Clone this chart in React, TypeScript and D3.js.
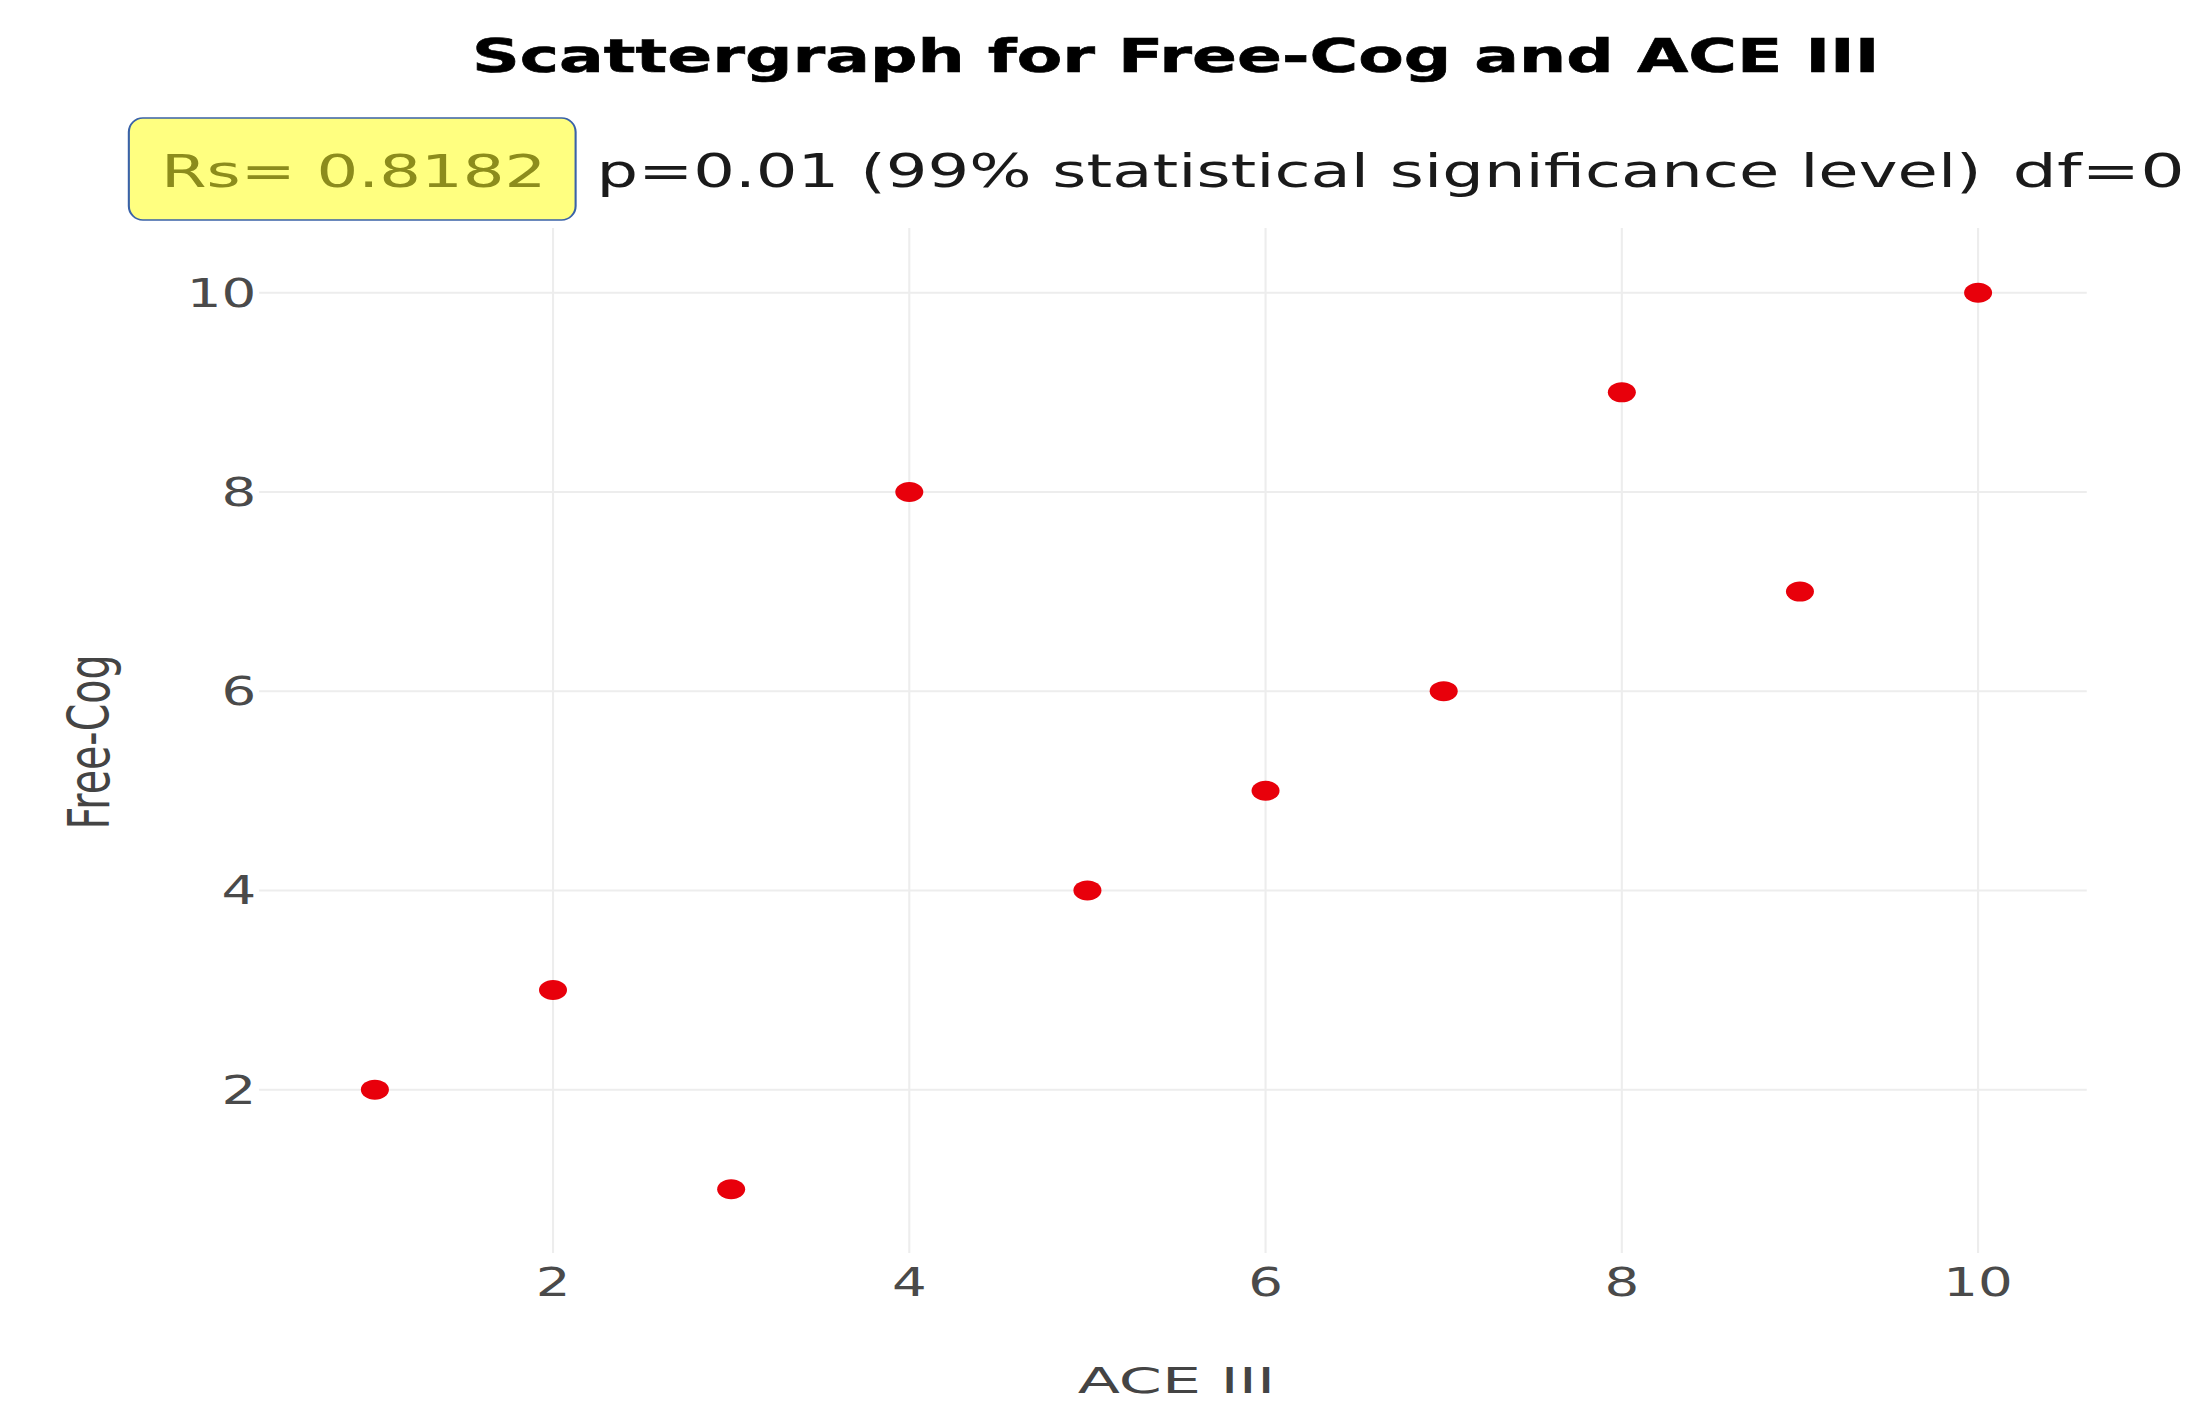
import React from 'react';
import * as d3 from 'd3';

// Free-Cog vs ACE III scores
const aceScores = [1, 2, 3, 4, 5, 6, 7, 8, 9, 10];
const freeCogScores = [2, 3, 1, 8, 4, 5, 6, 9, 7, 10];
const xTicks = [2, 4, 6, 8, 10];
const yTicks = [2, 4, 6, 8, 10];

const titleText = 'Scattergraph for Free-Cog and ACE III';
const rsText = 'Rs= 0.8182';
const pText = 'p=0.01 (99% statistical significance level)';
const dfText = 'df=0';

// the original picture is stretched sideways, so draw in a narrower
// virtual space and let the viewBox stretch it
const W = 1568;
const H = 1405;
const FONT = "'DejaVu Sans', Verdana, sans-serif";

export default function App() {
  const x = d3.scaleLinear().domain([0.35, 10.61]).range([185, 1490]);
  const y = d3.scaleLinear().domain([0.36, 10.65]).range([1253, 228]);
  const [x0, x1] = x.range();
  const [y0, y1] = y.range();

  const points = aceScores.map((a, i) => ({ a, f: freeCogScores[i] }));

  return (
    <svg
      width={2196}
      height={1405}
      viewBox={`0 0 ${W} ${H}`}
      preserveAspectRatio="none"
      style={{ position: 'absolute', left: 0, top: 0, display: 'block', background: '#fff' }}
    >
      <rect x={0} y={0} width={W} height={H} fill="#fff" />

      {/* grid */}
      <g>
        {xTicks.map((t) => (
          <line key={'gx' + t} x1={x(t)} x2={x(t)} y1={y0} y2={y1} stroke="#ededed" strokeWidth={1.5} />
        ))}
        {yTicks.map((t) => (
          <line key={'gy' + t} x1={x0} x2={x1} y1={y(t)} y2={y(t)} stroke="#ededed" strokeWidth={2} />
        ))}
      </g>

      {/* tick labels */}
      <g fontFamily={FONT} fontSize={39} fill="#4a4a4a">
        {yTicks.map((t) => (
          <text key={'ty' + t} x={183} y={y(t)} dy="0.36em" textAnchor="end">
            {t}
          </text>
        ))}
        {xTicks.map((t) => (
          <text key={'tx' + t} x={x(t)} y={1296} textAnchor="middle">
            {t}
          </text>
        ))}
      </g>

      {/* points */}
      <g>
        {points.map((p, i) => (
          <circle key={i} cx={x(p.a)} cy={y(p.f)} r={10} fill="#e8000b" />
        ))}
      </g>

      {/* axis titles */}
      <text
        x={840}
        y={1393}
        textAnchor="middle"
        fontFamily={FONT}
        fontSize={36}
        fill="#444"
        textLength={141}
        lengthAdjust="spacingAndGlyphs"
      >
        ACE III
      </text>
      <text
        transform={`translate(78, 742) rotate(-90)`}
        textAnchor="middle"
        fontFamily={FONT}
        fontSize={41}
        fill="#444"
        textLength={175}
        lengthAdjust="spacingAndGlyphs"
      >
        Free-Cog
      </text>

      {/* title */}
      <text
        x={337}
        y={72}
        fontFamily={FONT}
        fontWeight="bold"
        fontSize={47}
        fill="#000"
        stroke="#000"
        strokeWidth={0.6}
        textLength={1005}
        lengthAdjust="spacingAndGlyphs"
      >
        {titleText}
      </text>

      {/* stats line */}
      <rect x={92} y={118} width={319} height={102} rx={10} ry={14} fill="#ffff80" stroke="#3a62a8" strokeWidth={1.5} />
      <text
        x={115}
        y={187}
        fontFamily={FONT}
        fontSize={45}
        fill="#8c8c1c"
        textLength={275}
        lengthAdjust="spacingAndGlyphs"
      >
        {rsText}
      </text>
      <text
        x={426}
        y={187}
        fontFamily={FONT}
        fontSize={46}
        fill="#1a1a1a"
        textLength={989}
        lengthAdjust="spacingAndGlyphs"
      >
        {pText}
      </text>
      <text
        x={1437}
        y={187}
        fontFamily={FONT}
        fontSize={46}
        fill="#1a1a1a"
        textLength={123}
        lengthAdjust="spacingAndGlyphs"
      >
        {dfText}
      </text>
    </svg>
  );
}
